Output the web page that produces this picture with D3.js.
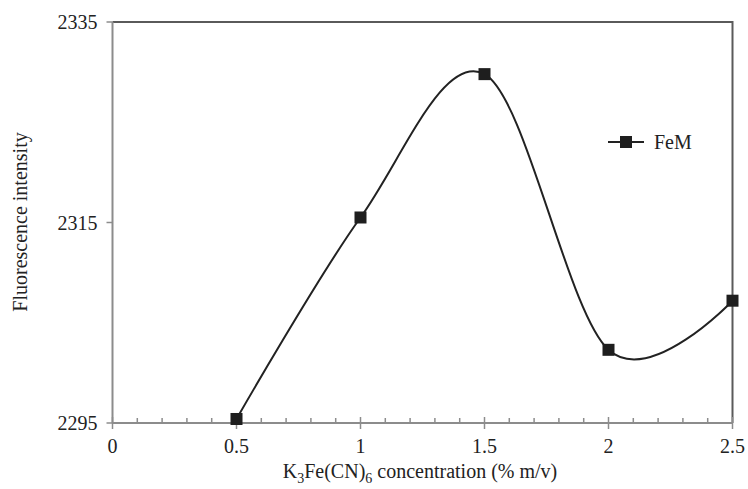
<!DOCTYPE html>
<html>
<head>
<meta charset="utf-8">
<script src="https://cdn.jsdelivr.net/npm/d3@7"></script>
<style>
	body { margin: 0; background: #fff; }
	svg text { font-family: "Liberation Serif", "Times New Roman", serif; fill: #222; }
</style>
</head>
<body>
<div id="chart"></div>
<script>
// Data
var concentration = [0.5, 1, 1.5, 2, 2.5];
var intensity = [2295.4, 2315.5, 2329.8, 2302.3, 2307.2];
var xTicks = [0, 0.5, 1, 1.5, 2, 2.5];
var yTicks = [2295, 2315, 2335];
var seriesName = "FeM";

var width = 748,
	height = 489,
	svg, x, y;

function init() {
	svg = d3.select("#chart")
		.append("svg")
		.attr("width", width)
		.attr("height", height);

	x = d3.scaleLinear().domain([0, 2.5]).range([112.5, 732.5]);
	y = d3.scaleLinear().domain([2295, 2335]).range([423, 22]);

	drawFrame();
	drawAxes();
	drawSeries();
	drawLegend();
}

function drawFrame() {
	// top and right border
	svg.append("path")
		.attr("d", "M" + x(0) + "," + y(2335) + "H" + x(2.5) + "V" + y(2295))
		.attr("fill", "none")
		.attr("stroke", "#5a5a5a")
		.attr("stroke-width", 2);
}

function drawAxes() {
	// x axis, minor ticks up
	var minor = d3.range(0, 25).map(function(d) { return d / 10; })
		.filter(function(d) { return Math.round(d * 10) % 5 !== 0; });

	var gx = svg.append("g").attr("transform", "translate(0," + y(2295) + ")");
	gx.append("line")
		.attr("x1", x(0)).attr("x2", x(2.5))
		.attr("stroke", "#8c8c8c").attr("stroke-width", 2);
	gx.selectAll(".minor").data(minor).enter().append("line")
		.attr("x1", x).attr("x2", x)
		.attr("y1", 0).attr("y2", -5)
		.attr("stroke", "#8c8c8c").attr("stroke-width", 1.5);
	gx.selectAll(".major").data(xTicks).enter().append("line")
		.attr("x1", x).attr("x2", x)
		.attr("y1", -6).attr("y2", 6)
		.attr("stroke", "#8c8c8c").attr("stroke-width", 1.5);
	gx.selectAll("text").data(xTicks).enter().append("text")
		.attr("x", x)
		.attr("y", 30)
		.attr("text-anchor", "middle")
		.attr("font-size", 20)
		.text(function(d) { return d; });

	// y axis
	var gy = svg.append("g").attr("transform", "translate(" + x(0) + ",0)");
	gy.append("line")
		.attr("y1", y(2335)).attr("y2", y(2295))
		.attr("stroke", "#8c8c8c").attr("stroke-width", 2);
	gy.selectAll(".tick").data(yTicks).enter().append("line")
		.attr("y1", y).attr("y2", y)
		.attr("x1", -6).attr("x2", 0)
		.attr("stroke", "#8c8c8c").attr("stroke-width", 1.5);
	gy.selectAll("text").data(yTicks).enter().append("text")
		.attr("x", -15)
		.attr("y", function(d) { return y(d) + 7; })
		.attr("text-anchor", "end")
		.attr("font-size", 20)
		.text(function(d) { return d; });

	// axis titles
	var xl = svg.append("text")
		.attr("x", 420)
		.attr("y", 478)
		.attr("text-anchor", "middle")
		.attr("font-size", 20);
	xl.append("tspan").text("K");
	xl.append("tspan").attr("font-size", 14).attr("dy", 5).text("3");
	xl.append("tspan").attr("dy", -5).text("Fe(CN)");
	xl.append("tspan").attr("font-size", 14).attr("dy", 5).text("6");
	xl.append("tspan").attr("dy", -5).text(" concentration (% m/v)");

	svg.append("text")
		.attr("transform", "translate(27,222) rotate(-90)")
		.attr("text-anchor", "middle")
		.attr("font-size", 20)
		.text("Fluorescence intensity");
}

function drawSeries() {
	var pts = concentration.map(function(c, i) { return [c, intensity[i]]; });

	var line = d3.line()
		.x(function(d) { return x(d[0]); })
		.y(function(d) { return y(d[1]); })
		.curve(d3.curveCardinal.tension(0));

	svg.append("path")
		.datum(pts)
		.attr("d", line)
		.attr("fill", "none")
		.attr("stroke", "#222")
		.attr("stroke-width", 2);

	svg.selectAll(".marker").data(pts).enter().append("rect")
		.attr("x", function(d) { return x(d[0]) - 6; })
		.attr("y", function(d) { return y(d[1]) - 6; })
		.attr("width", 12)
		.attr("height", 12)
		.attr("fill", "#1e1e1e");
}

function drawLegend() {
	var g = svg.append("g").attr("transform", "translate(608,142)");
	g.append("line")
		.attr("x1", 0).attr("x2", 36)
		.attr("stroke", "#222").attr("stroke-width", 2);
	g.append("rect")
		.attr("x", 12).attr("y", -6)
		.attr("width", 12).attr("height", 12)
		.attr("fill", "#1e1e1e");
	g.append("text")
		.attr("x", 46)
		.attr("y", 7)
		.attr("font-size", 20)
		.text(seriesName);
}

window.onload = init;
</script>
</body>
</html>
